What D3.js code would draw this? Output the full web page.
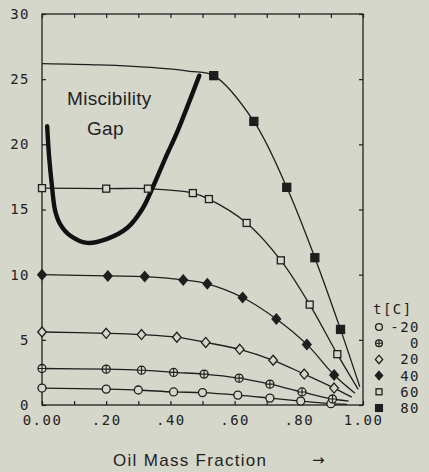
<!DOCTYPE html>
<html>
<head>
<meta charset="utf-8">
<script src="https://cdn.jsdelivr.net/npm/d3@7"></script>
<style>
  body { margin: 0; background: #d6d7cb; }
  svg { display: block; }
  .tk text { font-family: "DejaVu Sans Mono", monospace; font-size: 14px; letter-spacing: 1.5px; fill: #222; }
</style>
</head>
<body>
<svg id="chart" width="429" height="472"></svg>
<script>
// temperatures t [C] and the measured points of each isotherm
var temps = [-20, 0, 20, 40, 60, 80];

var xM20 = [0, 0.2, 0.3, 0.41, 0.5, 0.61, 0.71, 0.806, 0.90];
var yM20 = [1.3, 1.22, 1.15, 1.0, 0.95, 0.76, 0.53, 0.3, 0.1];
var x0 = [0, 0.2, 0.31, 0.41, 0.505, 0.614, 0.71, 0.81, 0.905];
var y0 = [2.8, 2.75, 2.67, 2.5, 2.37, 2.06, 1.6, 1.0, 0.46];
var x20 = [0, 0.2, 0.31, 0.42, 0.51, 0.616, 0.72, 0.817, 0.91];
var y20 = [5.6, 5.5, 5.4, 5.2, 4.8, 4.27, 3.43, 2.37, 1.3];
var x40 = [0, 0.205, 0.32, 0.44, 0.515, 0.625, 0.73, 0.825, 0.91];
var y40 = [10.0, 9.9, 9.85, 9.6, 9.3, 8.25, 6.6, 4.65, 2.3];
var x60 = [0, 0.2, 0.33, 0.47, 0.52, 0.6375, 0.744, 0.834, 0.92];
var y60 = [16.64, 16.6, 16.6, 16.26, 15.8, 13.97, 11.1, 7.7, 3.9];
var x80 = [0.535, 0.66, 0.7625, 0.85, 0.93];
var y80 = [25.27, 21.76, 16.7, 11.3, 5.8];

// fitted curve: extra points (start of the 80 line, ends near 1.0)
var fitStart80 = [[0, 26.2], [0.18, 26.1], [0.34, 25.9], [0.46, 25.6]];
var fitEnds = [[0.95, 0.05], [0.955, 0.3], [0.965, 0.6], [0.975, 0.9], [0.985, 1.2], [0.99, 1.4]];

// miscibility gap boundary
var gapX = [0.016, 0.022, 0.031, 0.041, 0.056, 0.0875, 0.14, 0.203, 0.266, 0.3125, 0.344, 0.384, 0.422, 0.49];
var gapY = [21.4, 19.1, 16.8, 14.9, 13.9, 13.0, 12.44, 12.75, 13.6, 15.04, 16.64, 18.93, 21.0, 25.27];

var xTicks = [0, 0.1, 0.2, 0.3, 0.4, 0.5, 0.6, 0.7, 0.8, 0.9, 1.0];
var xLabels = {0: "0.00", 0.2: ".20", 0.4: ".40", 0.6: ".60", 0.8: ".80", 1: "1.00"};
var yTicks = [0, 5, 10, 15, 20, 25, 30];

var markerTypes = ["circle", "circlePlus", "diamond", "diamondFill", "square", "squareFill"];

var series = [
  {t: temps[0], xs: xM20, ys: yM20},
  {t: temps[1], xs: x0, ys: y0},
  {t: temps[2], xs: x20, ys: y20},
  {t: temps[3], xs: x40, ys: y40},
  {t: temps[4], xs: x60, ys: y60},
  {t: temps[5], xs: x80, ys: y80}
];

var bg = "#d6d7cb", ink = "#1e1e1e";
var svg = d3.select("#chart");
svg.append("rect").attr("width", 429).attr("height", 472).attr("fill", bg);

var x = d3.scaleLinear().domain([0, 1]).range([42, 363]);
var y = d3.scaleLinear().domain([0, 30]).range([405, 14]);

// frame
svg.append("rect")
  .attr("x", x(0)).attr("y", y(30))
  .attr("width", x(1) - x(0)).attr("height", y(0) - y(30))
  .attr("fill", "none").attr("stroke", ink).attr("stroke-width", 1.3);

// axes, ticks pointing inward
svg.append("g").attr("class", "tk").attr("transform", "translate(0," + y(0) + ")")
  .call(d3.axisBottom(x).tickValues(xTicks).tickSizeInner(-4).tickSizeOuter(0).tickPadding(10)
    .tickFormat(function(d) { return xLabels[Math.round(d * 10) / 10] || ""; }));
svg.append("g").attr("class", "tk").attr("transform", "translate(0," + y(30) + ")")
  .call(d3.axisTop(x).tickValues(xTicks).tickSizeInner(-4).tickSizeOuter(0).tickFormat(""));
svg.append("g").attr("class", "tk").attr("transform", "translate(" + x(0) + ",0)")
  .call(d3.axisLeft(y).tickValues(yTicks).tickSizeInner(-4).tickSizeOuter(0).tickPadding(12)
    .tickFormat(function(d) { return d; }));
svg.append("g").attr("class", "tk").attr("transform", "translate(" + x(1) + ",0)")
  .call(d3.axisRight(y).tickValues(yTicks).tickSizeInner(-4).tickSizeOuter(0).tickFormat(""));
svg.selectAll(".tk .domain").remove();
svg.selectAll(".tk line").attr("stroke", ink).attr("stroke-width", 1.2);

// fitted isotherm lines
var line = d3.line().x(function(d) { return x(d[0]); }).y(function(d) { return y(d[1]); })
  .curve(d3.curveCatmullRom.alpha(0.5));

series.forEach(function(s, i) {
  var pts = s.xs.map(function(v, j) { return [v, s.ys[j]]; });
  if (s.t === 80) pts = fitStart80.concat(pts);
  pts.push(fitEnds[i]);
  svg.append("path").datum(pts).attr("d", line)
    .attr("fill", "none").attr("stroke", ink).attr("stroke-width", 1.3);
});

// miscibility gap
var gap = gapX.map(function(v, j) { return [v, gapY[j]]; });
svg.append("path").datum(gap)
  .attr("d", d3.line().x(function(d) { return x(d[0]); }).y(function(d) { return y(d[1]); })
    .curve(d3.curveCatmullRom.alpha(0.5)))
  .attr("fill", "none").attr("stroke", "#111").attr("stroke-width", 4.4)
  .attr("stroke-linecap", "round").attr("stroke-linejoin", "round");

function marker(g, type, cx, cy, k) {
  k = k || 1;
  if (type === "circle" || type === "circlePlus") {
    g.append("circle").attr("cx", cx).attr("cy", cy).attr("r", 4 * k)
      .attr("fill", bg).attr("stroke", ink).attr("stroke-width", 1.3);
    if (type === "circlePlus") {
      g.append("path").attr("d", "M" + (cx - 4 * k) + "," + cy + "h" + 8 * k + "M" + cx + "," + (cy - 4 * k) + "v" + 8 * k)
        .attr("stroke", ink).attr("stroke-width", 1.1);
    }
  } else if (type === "diamond" || type === "diamondFill") {
    var w = 4.3 * k, h = 5 * k;
    g.append("path").attr("d", "M" + cx + "," + (cy - h) + "L" + (cx + w) + "," + cy + "L" + cx + "," + (cy + h) + "L" + (cx - w) + "," + cy + "Z")
      .attr("fill", type === "diamondFill" ? ink : bg).attr("stroke", ink).attr("stroke-width", 1.3);
  } else {
    var a = (type === "squareFill" ? 4 : 3.5) * k;
    g.append("rect").attr("x", cx - a).attr("y", cy - a).attr("width", 2 * a).attr("height", 2 * a)
      .attr("fill", type === "squareFill" ? ink : bg).attr("stroke", ink).attr("stroke-width", 1.3);
  }
}

var mk = svg.append("g");
series.forEach(function(s, i) {
  s.xs.forEach(function(v, j) { marker(mk, markerTypes[i], x(v), y(s.ys[j])); });
});

// labels
svg.append("text").attr("x", 67).attr("y", 105).text("Miscibility")
  .attr("font-family", "Liberation Sans, Arial, sans-serif").attr("font-size", 19).attr("letter-spacing", 0.3).attr("fill", "#222");
svg.append("text").attr("x", 87).attr("y", 135).text("Gap")
  .attr("font-family", "Liberation Sans, Arial, sans-serif").attr("font-size", 19).attr("letter-spacing", 0.3).attr("fill", "#222");

svg.append("text").attr("x", 113).attr("y", 466).text("Oil Mass Fraction")
  .attr("font-family", "Liberation Sans, Arial, sans-serif").attr("font-size", 17).attr("letter-spacing", 1.3).attr("fill", "#222");
svg.append("text").attr("x", 312).attr("y", 465).text("\u2192")
  .attr("font-family", "DejaVu Sans, sans-serif").attr("font-size", 15).attr("fill", "#222");

// legend
var lg = svg.append("g").attr("class", "tk");
lg.append("text").attr("x", 373).attr("y", 314).text("t[C]");
temps.forEach(function(t, i) {
  var ly = 327 + i * 16.2;
  marker(lg, markerTypes[i], 379, ly, 0.85);
  lg.append("text").attr("x", 420).attr("y", ly + 5).attr("text-anchor", "end").text(t);
});
</script>
</body>
</html>
